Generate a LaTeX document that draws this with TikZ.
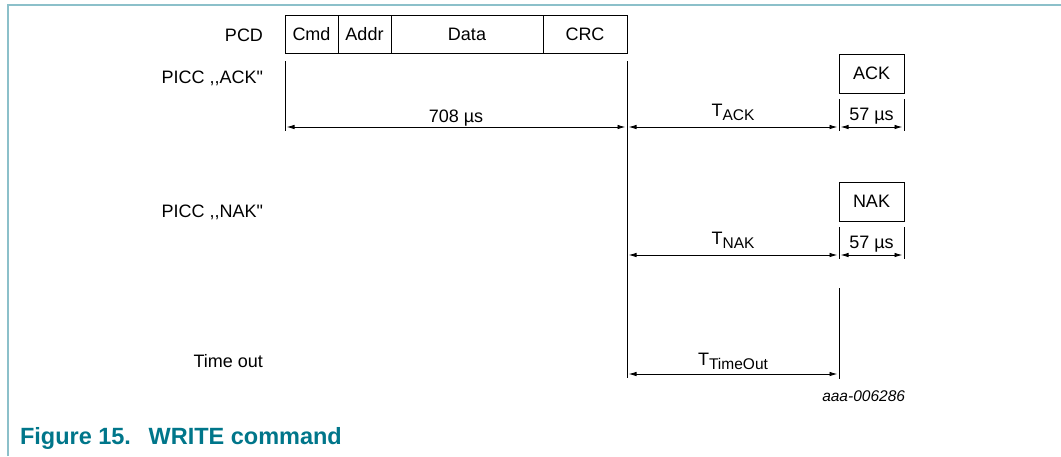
\documentclass[tikz,border=0pt]{standalone}
\usepackage{fontspec}
\setmainfont{Liberation Sans}[Ligatures=TeXOff]
\usetikzlibrary{arrows.meta}
\definecolor{nxpframe}{RGB}{140,192,202}
\definecolor{nxpteal}{RGB}{0,118,138}
\newcommand{\Tsub}[1]{T\raisebox{-4pt}{\fontsize{15.5}{16}\selectfont #1}}

\begin{document}
\begin{tikzpicture}[x=1pt,y=-1pt,
		every node/.style={font=\fontsize{18}{20}\selectfont, inner sep=0pt, outer sep=0pt},
		field/.style={draw, line width=1pt, minimum height=38pt, anchor=north west},
		msg/.style={draw, line width=1pt, minimum width=65pt, minimum height=39pt, anchor=north west},
		tick/.style={line width=0.9pt},
		dim/.style={{Latex[length=8pt,width=4.5pt]}-{Latex[length=8pt,width=4.5pt]}, line width=0.9pt, shorten <=1.5pt, shorten >=1.5pt},
		lbl/.style={midway, anchor=base, yshift=#1}]
		\useasboundingbox (0,0) rectangle (1061,456);
		\draw[nxpframe, line width=2pt] (8,456) -- (8,5) -- (1061,5);
		
		\node[anchor=base east] (PCD) at (263,41) {PCD};
		\node[anchor=base east] (PICCack) at (263,83) {PICC ,,ACK"};
		\node[anchor=base east] (PICCnak) at (263,217) {PICC ,,NAK"};
		\node[anchor=base east] (TimeOut) at (263,367) {Time out};
		
		\node[field, minimum width=53pt] (Cmd) at (285,15) {Cmd};
		\node[field, minimum width=53pt] (Addr) at (Cmd.north east) {Addr};
		\node[field, minimum width=152pt] (Data) at (Addr.north east) {Data};
		\node[field, minimum width=84pt] (CRC) at (Data.north east) {CRC};
		
		\node[msg] (ACK) at (839,54) {ACK};
		\node[msg] (NAK) at (839,182) {NAK};
		
		\coordinate (s0) at (285,61);
		\coordinate (s1) at (285,131);
		\coordinate (e0) at (627,61);
		\coordinate (e1) at (627,378);
		\coordinate (t0) at (839,288);
		\coordinate (t1) at (839,379);
		
		\draw[tick] (s0) -- (s1);
		\draw[tick] (e0) -- (e1);
		\draw[tick] (t0) -- (t1);
		\draw[tick] ([yshift=-6pt]ACK.south west) -- ++(0,32);
		\draw[tick] ([yshift=-6pt]ACK.south east) -- ++(0,32);
		\draw[tick] ([yshift=-6pt]NAK.south west) -- ++(0,32);
		\draw[tick] ([yshift=-6pt]NAK.south east) -- ++(0,32);
		
		\draw[dim] (s0 |- 0,127) -- node[lbl=5pt] {708 µs} (e0 |- 0,127);
		\draw[dim] (e0 |- 0,127) -- node[lbl=11pt] {\Tsub{ACK}} (ACK.south west |- 0,127);
		\draw[dim] (ACK.south west |- 0,127) -- node[lbl=7pt] {57 µs} (ACK.south east |- 0,127);
		\draw[dim] (e0 |- 0,255) -- node[lbl=11pt] {\Tsub{NAK}} (NAK.south west |- 0,255);
		\draw[dim] (NAK.south west |- 0,255) -- node[lbl=7pt] {57 µs} (NAK.south east |- 0,255);
		\draw[dim] (e0 |- 0,374) -- node[lbl=9pt] {\Tsub{TimeOut}} (t0 |- 0,374);
		
		\node[anchor=base east, font=\fontsize{15.5}{17}\selectfont\itshape] (Ref) at (905,401) {aaa-006286};
		\node[anchor=base west, font=\fontsize{23.5}{26}\selectfont\bfseries, text=nxpteal] (Caption) at (20,444) {Figure 15.\hspace{0.75em}WRITE command};
		%\draw[red] (0,0) grid[step=50] (1061,456);
		\end{tikzpicture}
\end{document}
